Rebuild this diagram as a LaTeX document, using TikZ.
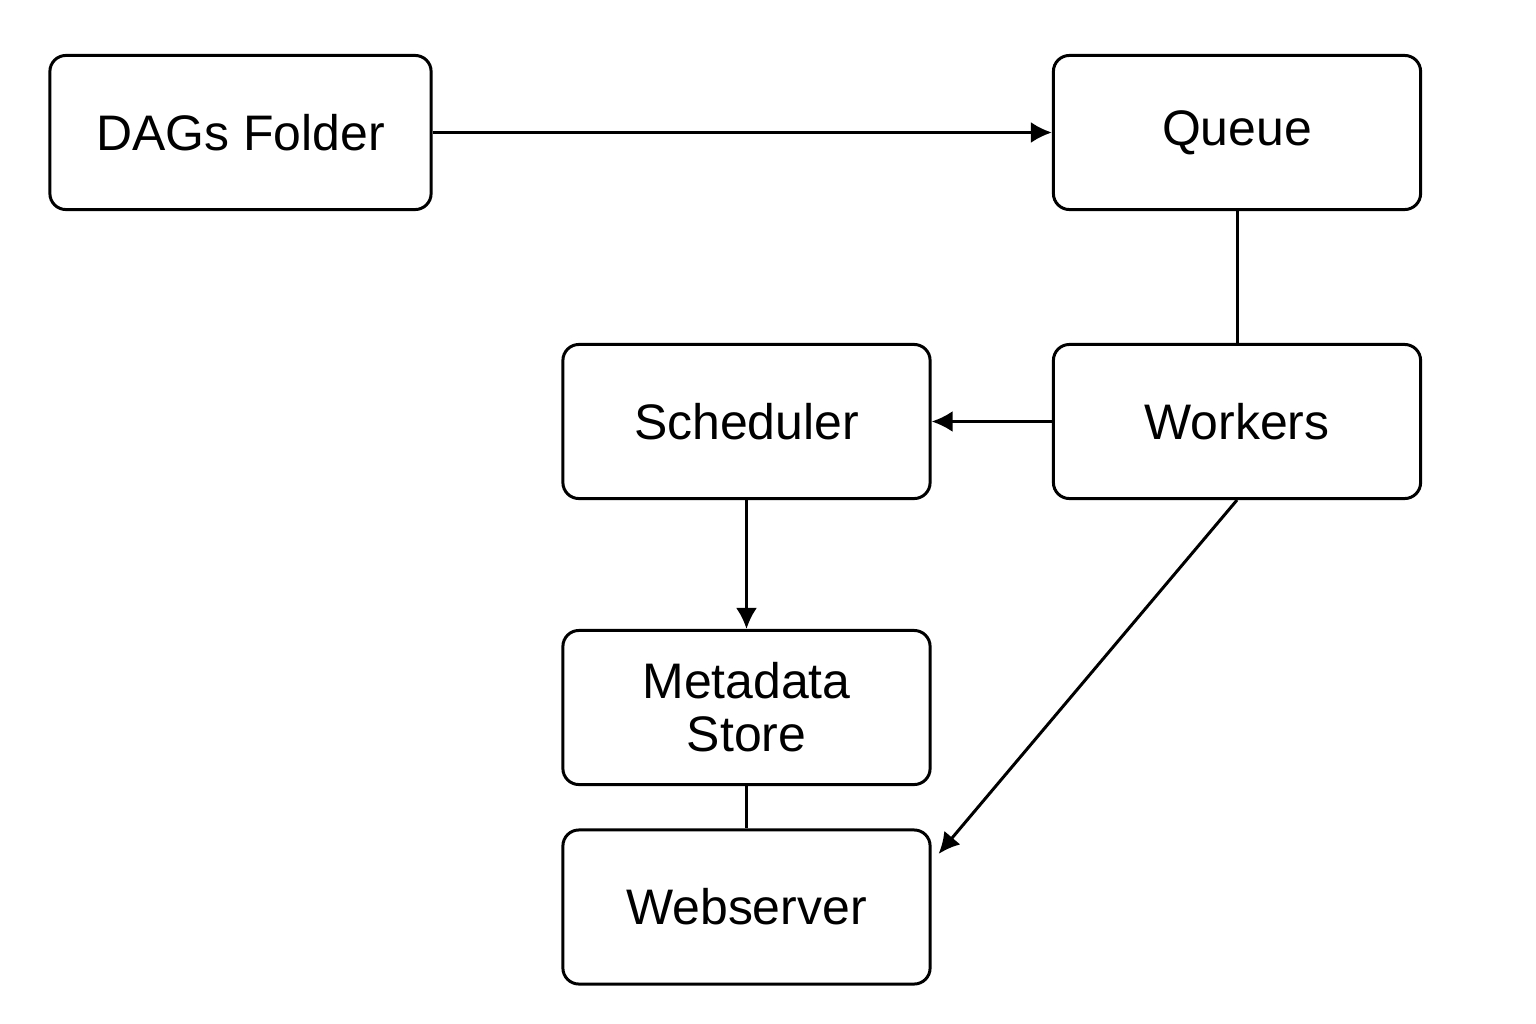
\documentclass[tikz,border=0pt]{standalone}
\usepackage{fontspec}
\setmainfont{Liberation Sans}
\usetikzlibrary{calc,arrows.meta}

\begin{document}
\begin{tikzpicture}[x=0.01cm,y=-0.01cm,
     block/.style = {draw, rectangle, rounded corners=0.16cm, line width=0.85pt,
      minimum width=3.67cm, minimum height=1.54cm, align=center,
      font=\fontsize{14.2}{16}\selectfont},
     arrow/.style={draw, -{Latex[length=6pt,width=6pt]}, line width=0.85pt},
     line/.style={draw, line width=0.85pt}
    ]
    \useasboundingbox (0,0) rectangle (1536,1024);

    \node [block, minimum width=3.81cm] (dags) at (240.5,132.5) {DAGs Folder};
    \node [block] (queue) at (1237,132.5) {Queue};
    \node [block] (sched) at (746.5,421.5) {Scheduler};
    \node [block] (work) at (1237,421.5) {Workers};
    \node [block] (meta) at (746.5,707.5) {Metadata\\[-1pt]Store};
    \node [block] (web) at (746.5,907) {Webserver};

    \draw[arrow] (dags) -- (queue);
    \draw[line] (queue) -- (work);
    \draw[arrow] (work) -- (sched);
    \draw[arrow] (sched) -- (meta);
    \draw[line] (meta) -- (web);
    \draw[arrow] (work.south) -- ($(web.16)+(7,0)$);

\end{tikzpicture}
\end{document}
